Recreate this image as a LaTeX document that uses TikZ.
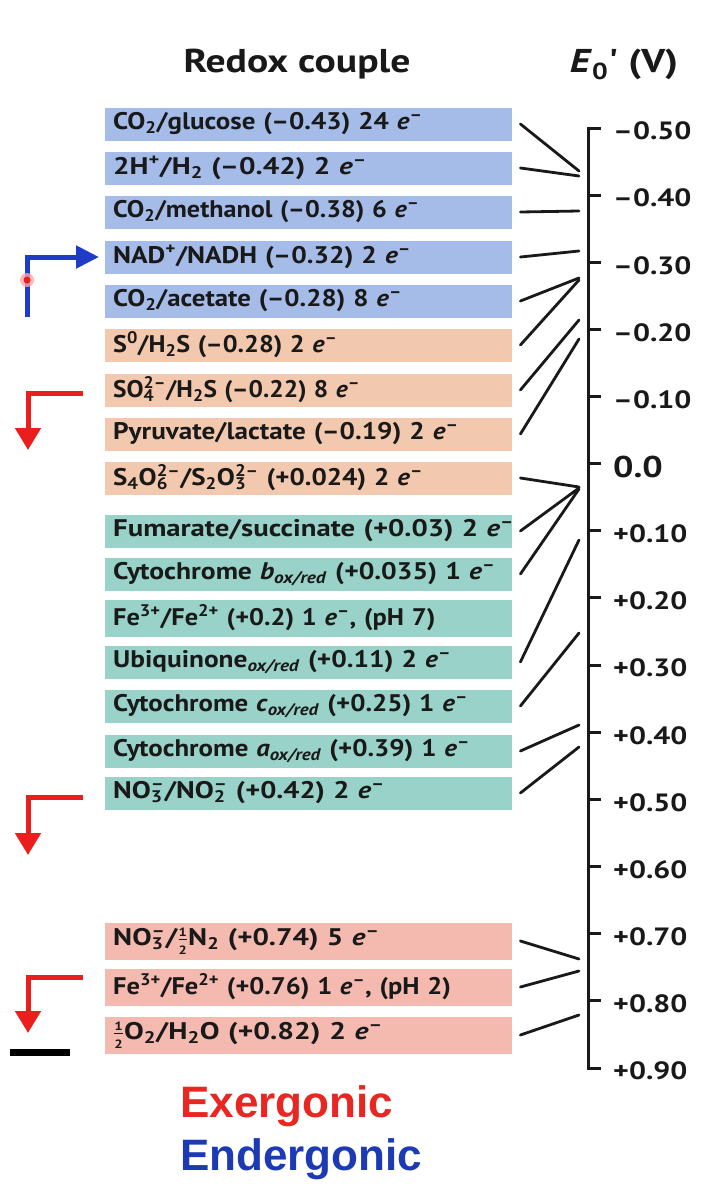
\documentclass[tikz,border=0pt]{standalone}
\usepackage{fontspec}
\usepackage{graphicx}
\setmainfont{PT Sans}
\newfontfamily\boxfont{PT Sans}[FakeStretch=1.14]
\newfontfamily\widefont{PT Sans}[FakeStretch=1.2]
\newfontfamily\legfont{Liberation Sans}
\usetikzlibrary{arrows.meta,calc}
\definecolor{cblue}{RGB}{166,188,232}
\definecolor{corange}{RGB}{242,201,174}
\definecolor{cteal}{RGB}{152,210,200}
\definecolor{cpink}{RGB}{244,186,176}
\definecolor{ared}{RGB}{235,30,30}
\definecolor{ablue}{RGB}{30,60,200}
\definecolor{exred}{RGB}{232,38,34}
\definecolor{enblue}{RGB}{28,58,180}
\definecolor{ink}{RGB}{25,25,25}
\newcommand\el{\textit{e}\textsuperscript{–}}
\newcommand\sbsp[2]{\makebox[0pt][l]{\textsubscript{#1}}\textsuperscript{#2}}
\newcommand\oxred{\textsubscript{\textit{ox/red}}}
\newcommand\halfx{$\frac{\mbox{\fontsize{12}{12}\selectfont\bfseries 1}}{\mbox{\fontsize{12}{12}\selectfont\bfseries 2}}$}
\newcommand\sx[2]{\scalebox{#1}[1]{#2}}
\begin{document}
\begin{tikzpicture}[x=1pt,y=-1pt,
  box/.style={draw=none, anchor=west, minimum width=407pt, minimum height=33pt,
    inner xsep=8pt, inner ysep=0pt, text width=391pt, align=left,
    font=\boxfont\fontsize{24}{26}\selectfont\bfseries, text=ink},
  tall/.style={minimum height=37pt},
  conn/.style={line width=2.8pt, draw=ink, line cap=round},
  axisline/.style={line width=3pt, draw=ink},
  axlab/.style={anchor=west, inner sep=0pt, text=ink, font=\widefont\fontsize{25}{27}\selectfont\bfseries},
  head/.style={anchor=base, inner sep=0pt, text=ink, font=\widefont\fontsize{33}{35}\selectfont\bfseries},
  redarrow/.style={line width=5pt, draw=ared, -{Triangle[length=22pt,width=25pt]}},
  bluearrow/.style={line width=5pt, draw=ablue, -{Triangle[length=23pt,width=22pt]}},
  legend/.style={anchor=base west, inner sep=0pt, font=\legfont\bfseries\fontsize{44}{46}\selectfont}]
\useasboundingbox (0,0) rectangle (724,1200);
\fill[white] (0,0) rectangle (724,1200);

% header
\node[head] (h1) at (297,72) {Redox couple};
\node[head] (h2) at (624,72) {\textit{E}\textsubscript{0}' (V)};

% boxes
\node[box,fill=cblue] (b1) at (105,124) {\sx{0.987}{CO\textsubscript{2}/glucose (–0.43) 24 \el}};
\node[box,fill=cblue] (b2) at (105,168) {\sx{1.065}{2H\textsuperscript{+}/H\textsubscript{2} (–0.42) 2 \el}};
\node[box,fill=cblue] (b3) at (105,212) {\sx{0.955}{CO\textsubscript{2}/methanol (–0.38) 6 \el}};
\node[box,fill=cblue] (b4) at (105,257) {\sx{1.0}{NAD\textsuperscript{+}/NADH (–0.32) 2 \el}};
\node[box,fill=cblue] (b5) at (105,301) {\sx{0.981}{CO\textsubscript{2}/acetate (–0.28) 8 \el}};
\node[box,fill=corange] (b6) at (105,345) {\sx{0.956}{S\textsuperscript{0}/H\textsubscript{2}S (–0.28) 2 \el}};
\node[box,fill=corange] (b7) at (105,390) {\sx{0.93}{SO\sbsp{4}{2–}/H\textsubscript{2}S (–0.22) 8 \el}};
\node[box,fill=corange] (b8) at (105,434) {\sx{0.993}{Pyruvate/lactate (–0.19) 2 \el}};
\node[box,fill=corange] (b9) at (105,478) {\sx{0.986}{S\textsubscript{4}O\sbsp{6}{2–}/S\textsubscript{2}O\sbsp{3}{2–} (+0.024) 2 \el}};
\node[box,fill=cteal] (b10) at (105,531) {\sx{1.05}{Fumarate/succinate (+0.03) 2 \el}};
\node[box,fill=cteal] (b11) at (105,574) {\sx{1.009}{Cytochrome \textit{b}\oxred\ (+0.035) 1 \el}};
\node[box,tall,fill=cteal] (b12) at (105,618) {\sx{0.964}{Fe\textsuperscript{3+}/Fe\textsuperscript{2+} (+0.2) 1 \el, (pH 7)}};
\node[box,fill=cteal] (b13) at (105,662) {\sx{1.0}{Ubiquinone\oxred\ (+0.11) 2 \el}};
\node[box,fill=cteal] (b14) at (105,706) {\sx{0.982}{Cytochrome \textit{c}\oxred\ (+0.25) 1 \el}};
\node[box,fill=cteal] (b15) at (105,751) {\sx{0.983}{Cytochrome \textit{a}\oxred\ (+0.39) 1 \el}};
\node[box,fill=cteal] (b16) at (105,793) {\sx{1.04}{NO\sbsp{3}{–}/NO\sbsp{2}{–} (+0.42) 2 \el}};
\node[box,tall,fill=cpink] (b17) at (105,941) {\sx{1.06}{NO\sbsp{3}{–}/\halfx N\textsubscript{2} (+0.74) 5 \el}};
\node[box,tall,fill=cpink] (b18) at (105,987) {\sx{0.966}{Fe\textsuperscript{3+}/Fe\textsuperscript{2+} (+0.76) 1 \el, (pH 2)}};
\node[box,tall,fill=cpink] (b19) at (105,1035) {\sx{1.08}{\halfx O\textsubscript{2}/H\textsubscript{2}O (+0.82) 2 \el}};

% axis
\coordinate (atop) at (588,128);
\coordinate (abot) at (588,1068);
\draw[axisline] ($(atop)+(13,0)$) -- (atop) -- (abot) -- ($(abot)+(13,0)$);
\foreach \i in {1,...,13} \draw[axisline] (588,{128+67.14*\i}) -- (601,{128+67.14*\i});
\foreach \i/\lab in {0/–0.50,1/–0.40,2/–0.30,3/–0.20,4/–0.10,6/+0.10,7/+0.20,8/+0.30,9/+0.40,10/+0.50,11/+0.60,12/+0.70,13/+0.80,14/+0.90}
  \node[axlab] (t\i) at (613,{131+67.14*\i}) {\lab};
\node[axlab, font=\widefont\fontsize{30}{32}\selectfont\bfseries] (t5) at (613,{131+67.14*5}) {0.0};

% connector end points on the axis
\coordinate (e1) at (579,171);
\coordinate (e2) at (579,176);
\coordinate (e3) at (579,211);
\coordinate (e4) at (579,251);
\coordinate (e5) at (579,278);
\coordinate (e6) at (579,280);
\coordinate (e7) at (579,320);
\coordinate (e8) at (579,339);
\coordinate (e9) at (579,487);
\coordinate (e10) at (579,488);
\coordinate (e11) at (579,489);
\coordinate (e13) at (579,540);
\coordinate (e14) at (579,633);
\coordinate (e15) at (579,725);
\coordinate (e16) at (579,747);
\coordinate (e17) at (579,959);
\coordinate (e18) at (579,971);
\coordinate (e19) at (579,1015);
\foreach \k in {1,2,3,4,5,6,7,8,9,10,11,13,14,15,16,17,18,19}
  \draw[conn] ([xshift=8pt]b\k.east) -- (e\k);

% left arrows
\coordinate (u0) at (27,317); \coordinate (u1) at (27,257); \coordinate (u2) at (99,257);
\draw[bluearrow] (u0) -- (u1) -- (u2);
\fill[red!35,opacity=0.8] (27,280) circle (7);
\fill[ared] (27,280) circle (3.5);

\coordinate (r1a) at (83,393); \coordinate (r1b) at (28,393); \coordinate (r1c) at (28,450);
\draw[redarrow] (r1a) -- (r1b) -- (r1c);
\coordinate (r2a) at (83,797); \coordinate (r2b) at (28,797); \coordinate (r2c) at (28,855);
\draw[redarrow] (r2a) -- (r2b) -- (r2c);
\coordinate (r3a) at (83,977); \coordinate (r3b) at (28,977); \coordinate (r3c) at (28,1033);
\draw[redarrow] (r3a) -- (r3b) -- (r3c);
\coordinate (k1) at (10,1052); \coordinate (k2) at (70,1052);
\draw[line width=7pt, draw=black] (k1) -- (k2);

% legend
\node[legend, text=exred] (exo) at (180,1117) {Exergonic};
\node[legend, text=enblue] (endo) at (180,1170) {Endergonic};
\end{tikzpicture}
\end{document}
